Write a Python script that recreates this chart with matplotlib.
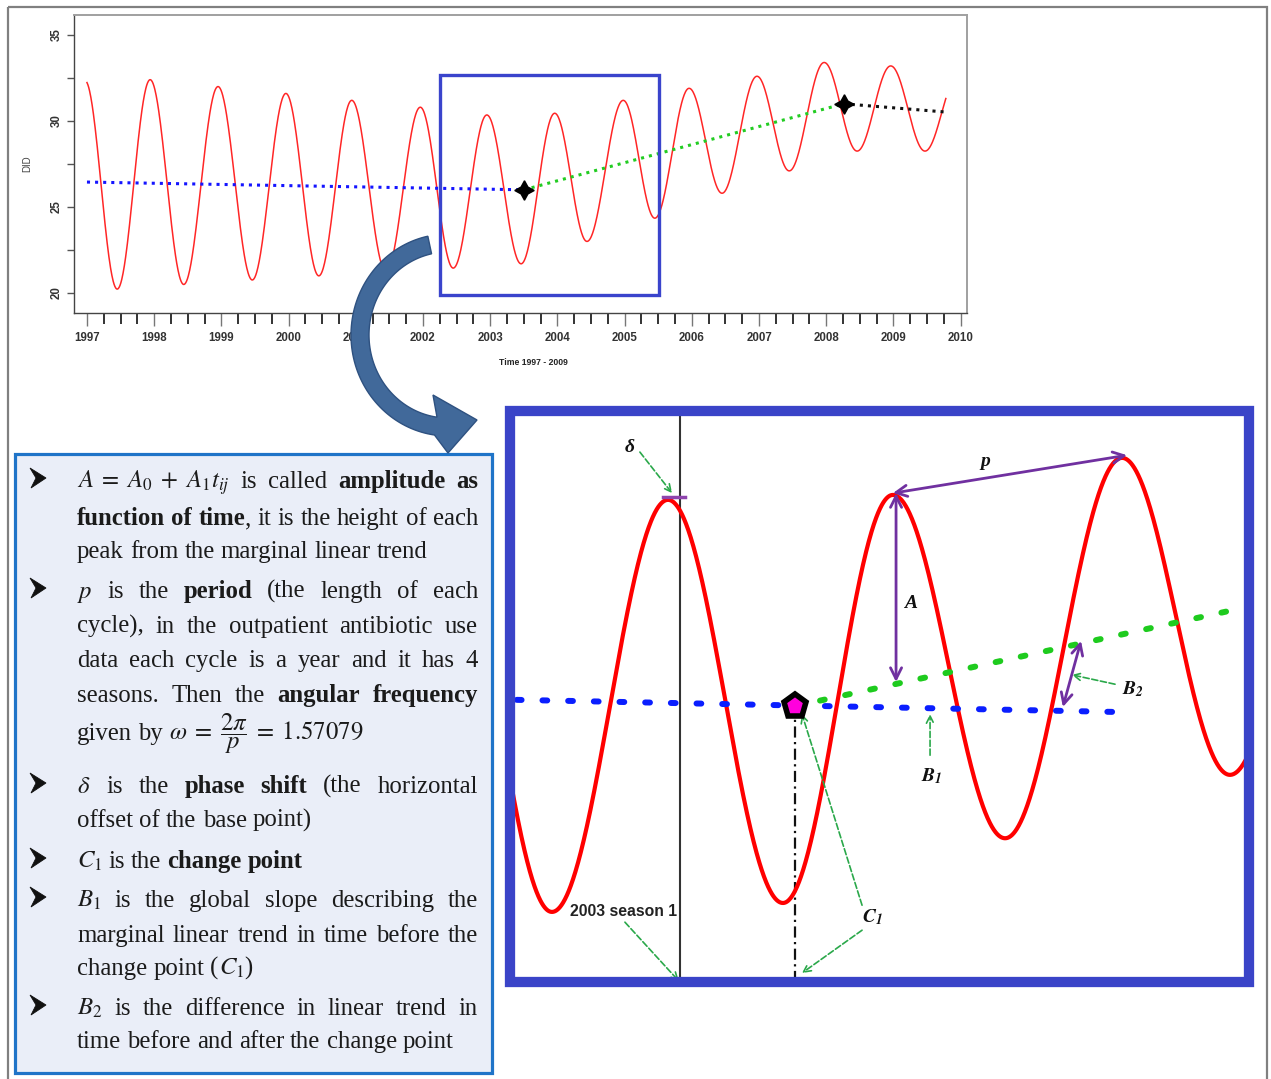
import re
import numpy as np
import matplotlib
matplotlib.use('Agg')
import matplotlib.pyplot as plt
from matplotlib.patches import Rectangle, Polygon

plt.rcParams['mathtext.fontset'] = 'stix'

W, H = 1271, 1079

# top chart: DID 1997-2009, seasonal curve given by its turning points
top_turn_t = [1996.97, 1997.45, 1997.94, 1998.44, 1998.95, 1999.46, 1999.96,
              2000.45, 2000.94, 2001.45, 2001.96, 2002.45, 2002.95, 2003.46,
              2003.96, 2004.44, 2004.98, 2005.45, 2005.96, 2006.45, 2006.97,
              2007.45, 2007.97, 2008.46, 2008.96, 2009.47, 2009.96]
top_turn_v = [32.35, 20.23, 32.4, 20.5, 32.0, 20.76, 31.6,
              21.0, 31.2, 21.25, 30.8, 21.45, 30.35, 21.7,
              30.45, 23.0, 31.2, 24.35, 31.9, 25.8, 32.6,
              27.1, 33.4, 28.25, 33.2, 28.25, 32.6]
top_span = (1997.0, 2009.78)

trend1_t = [1997.0, 2003.5]
trend1_v = [26.45, 26.0]
trend2_t = [2003.5, 2008.26]
trend2_v = [26.0, 31.0]
trend3_t = [2008.26, 2009.78]
trend3_v = [31.0, 30.52]
change_t = [2003.5, 2008.26]
change_v = [26.0, 31.0]

years = list(range(1997, 2011))
did_ticks = [20, 25, 30, 35]

# window 2002.25-2005.51 that the lower panel blows up
win_t = (2002.25, 2005.51)
win_v = (19.88, 32.67)

# lower panel: schematic of the same window
zoom_turn_t = [2001.95, 2002.435, 2002.947, 2003.454, 2003.939, 2004.434,
               2004.950, 2005.426, 2005.93]
zoom_turn_v = [30.9, 21.45, 30.68, 21.65, 30.79, 23.10, 31.62, 24.52, 31.8]
zoom_before_t = [2002.28, 2004.91]
zoom_before_v = [26.20, 25.93]
zoom_after_t = [2003.507, 2005.457]
zoom_after_v = [26.06, 28.23]
season1_t = 2003.0
cp_t, cp_v = 2003.507, 26.06

# purple measurement arrows (p, A, B2) and the delta bar
purple_arrows = [((2003.939, 30.83), (2004.972, 31.68)),
                 ((2003.953, 30.83), (2003.953, 26.60)),
                 ((2004.689, 26.04), (2004.769, 27.52))]
delta_bar_t = [2002.925, 2003.022]
delta_bar_v = [30.74, 30.74]

# green dashed pointers: (from, to)
pointers = [((2002.823, 31.75), (2002.965, 30.83)),
            ((2004.103, 24.96), (2004.103, 25.88)),
            ((2004.919, 26.55), (2004.729, 26.76)),
            ((2003.803, 21.60), (2003.538, 25.88)),
            ((2003.803, 21.04), (2003.538, 20.08)),
            ((2002.757, 21.22), (2002.995, 19.90))]

notes = [
    [r"$A \;=\; A_0 \;+\; A_1 t_{ij}$ is called *amplitude* *as*",
     "*function* *of* *time*, it is the height of each",
     "peak from the marginal linear trend"],
    ["$p$ is the *period* (the length of each",
     "cycle), in the outpatient antibiotic use",
     "data each cycle is a year and it has 4",
     "seasons. Then the *angular* *frequency*",
     r"given by $\omega \;=\; \dfrac{2\pi}{p} \;=\; 1.57079$"],
    [r"$\delta$ is the *phase* *shift* (the horizontal",
     "offset of the base point)"],
    ["$C_1$ is the *change* *point*"],
    ["$B_1$ is the global slope describing the",
     "marginal linear trend in time before the",
     "change point ($C_1$)"],
    ["$B_2$ is the difference in linear trend in",
     "time before and after the change point"],
]
note_baselines = [[488, 525, 558], [598, 633, 667, 702, 740], [793, 827],
                  [868], [907, 942, 975], [1015, 1048]]


def seasonal_curve(turn_t, turn_v, t0, t1, n=2000):
    # half-cosine arcs between consecutive turning points
    t = np.linspace(t0, t1, n)
    y = np.full_like(t, np.nan)
    for i in range(len(turn_t) - 1):
        a, b = turn_t[i], turn_t[i + 1]
        m = (t >= a) & (t <= b)
        f = (t[m] - a) / (b - a)
        y[m] = turn_v[i + 1] + (turn_v[i] - turn_v[i + 1]) * (1 + np.cos(np.pi * f)) / 2
    return t, y


fig = plt.figure(figsize=(W / 100, H / 100), dpi=100)

# ---------------- top chart ----------------
ax = fig.add_axes([74 / W, 1 - 313 / H, 893 / W, 298 / H])
t, y = seasonal_curve(top_turn_t, top_turn_v, *top_span)
ax.plot(t, y, color='#ff2626', lw=1.1, zorder=3)
ax.plot(trend1_t, trend1_v, color='#1414ff', lw=2.2, ls=':', zorder=3)
ax.plot(trend2_t, trend2_v, color='#22cc22', lw=2.2, ls=':', zorder=3)
ax.plot(trend3_t, trend3_v, color='#111111', lw=2.2, ls=':', zorder=3)
ax.plot(change_t, change_v, ls='none', marker=(4, 1, 0), ms=14, color='black', zorder=4)
ax.add_patch(Rectangle((win_t[0], win_v[0]), win_t[1] - win_t[0], win_v[1] - win_v[0],
                       fill=False, ec='#3a44cc', lw=2.4, zorder=5))
ax.set_xlim(1996.807, 2010.095)
ax.set_ylim(18.84, 36.16)
ax.set_xticks(years)
ax.set_xticks(np.arange(1997, 2010.01, 0.25), minor=True)
ax.set_yticks(did_ticks)
ax.set_yticks(np.arange(20, 35.1, 2.5), minor=True)
ax.tick_params(axis='x', which='major', length=9, width=1.0, color='#777777', pad=4.5)
ax.tick_params(axis='x', which='minor', length=8, width=1.4, color='#333333')
ax.tick_params(axis='y', which='both', length=5, width=1.0, color='#555555', pad=3)
for lab in ax.get_xticklabels() + ax.get_yticklabels():
    lab.set_family('Liberation Sans')
    lab.set_weight('bold')
    lab.set_fontsize(8.3)
    lab.set_color('#333333')
for lab in ax.get_yticklabels():
    lab.set_rotation(90)
    lab.set_va('center')
for s in ('top', 'right'):
    ax.spines[s].set_color('#a0a0a0')
    ax.spines[s].set_linewidth(1.4)
for s in ('left', 'bottom'):
    ax.spines[s].set_color('#444444')
    ax.spines[s].set_linewidth(1.0)
ax.set_ylabel('DID', family='Liberation Sans', fontsize=7, color='#444444')
ax.yaxis.set_label_coords(-0.047, 0.5)
ax.set_xlabel('Time 1997 - 2009', family='Liberation Sans', fontsize=6.2,
              weight='bold', color='#222222')
ax.xaxis.set_label_coords(0.514, -0.15)

# ---------------- lower panel ----------------
pax = fig.add_axes([510 / W, 1 - 982 / H, 739 / W, 571 / H])
pax.set_xlim(*win_t)
pax.set_ylim(*win_v)
pax.set_xticks([])
pax.set_yticks([])
for s in pax.spines.values():
    s.set_visible(False)

pt, py = seasonal_curve(zoom_turn_t, zoom_turn_v, 2002.2, 2005.6)
pax.plot(pt, py, color='#ff0000', lw=3.0, zorder=3)
pax.plot(zoom_before_t, zoom_before_v, color='#0a1eff', lw=4.3,
         ls=(0, (0.8, 3.5)), dash_capstyle='round', zorder=4)
pax.plot(zoom_after_t, zoom_after_v, color='#1ecb1e', lw=4.3,
         ls=(0, (0.8, 3.5)), dash_capstyle='round', zorder=4)
pax.axvline(season1_t, color='#333333', lw=1.5, zorder=2)
pax.plot([cp_t, cp_t], [win_v[0], cp_v], color='#111111', lw=1.6,
         ls=(0, (5, 2, 1, 2)), zorder=2)
pax.plot([cp_t], [cp_v], marker='p', ms=17, mfc='#ff00dd', mec='black', mew=4, zorder=6)
pax.plot(delta_bar_t, delta_bar_v, color='#8e44ad', lw=2.5, zorder=5)

for a, b in purple_arrows:
    pax.annotate('', xy=b, xytext=a,
                 arrowprops=dict(arrowstyle='<->', color='#7030a0', lw=2.0,
                                 mutation_scale=20, shrinkA=0, shrinkB=0), zorder=5)
for a, b in pointers:
    pax.annotate('', xy=b, xytext=a,
                 arrowprops=dict(arrowstyle='->', color='#2aa84a', lw=1.2, ls='--',
                                 mutation_scale=13, shrinkA=0, shrinkB=0), zorder=5)

sym = dict(fontsize=14, color='#111111', ha='center', va='center', zorder=6)
pax.text(2004.345, 31.55, 'p', family='Liberation Serif', style='italic', weight='bold', **sym)
pax.text(2004.019, 28.35, 'A', family='Liberation Serif', style='italic', weight='bold', **sym)
pax.text(2002.779, 31.86, 'δ', family='Liberation Serif', style='italic', weight='bold', **sym)
pax.text(2004.111, 24.49, r'$\mathbfit{B_1}$', **sym)
pax.text(2004.998, 26.44, r'$\mathbfit{B_2}$', **sym)
pax.text(2003.851, 21.34, r'$\mathbfit{C_1}$', **sym)
pax.text(2002.753, 21.45, '2003 season 1', family='Liberation Sans', weight='bold',
         fontsize=11.3, color='#222222', ha='center', va='center', zorder=6)

# ---------------- overlay in pixel units ----------------
ov = fig.add_axes([0, 0, 1, 1], zorder=5)
ov.set_xlim(0, W)
ov.set_ylim(H, 0)
ov.axis('off')

ov.add_patch(Rectangle((8, 7), 1259, 1090, fill=False, ec='#808080', lw=1.6, clip_on=False))
ov.add_patch(Rectangle((510, 411), 739, 571, fill=False, ec='#3a44c8', lw=7.4,
                       joinstyle='miter'))
ov.add_patch(Rectangle((15, 454), 477, 619, fc='#eaeef8', ec='#1f74c8', lw=2.3))

# curved arrow from the window down to the lower panel
cx, cy, rx, ry, hw = 448, 335, 88, 92, 9
th = np.radians(np.linspace(102, 262, 80))
inner = np.column_stack([cx + (rx - hw) * np.cos(th), cy - (ry - hw) * np.sin(th)])
outer = np.column_stack([cx + (rx + hw) * np.cos(th), cy - (ry + hw) * np.sin(th)])
head = np.array([[433, 395], [477, 420], [448, 453]])
arrow_pts = np.vstack([inner, head, outer[::-1]])
ov.add_patch(Polygon(arrow_pts, closed=True, fc='#41699a', ec='#2e5180', lw=1.0))

# bullet list, justified like the source text
FS = 17.8
L, R = 77, 478
SPACE = 0.25 * FS * 100 / 72
renderer = fig.canvas.get_renderer()
bullet_shape = np.array([[30, -20], [46, -10], [31, 0], [36, -10]])


def pieces(token):
    out = []
    for part in re.split(r'(\$[^$]*\$|\*[^*]*\*)', token):
        if not part:
            continue
        if part.startswith('*'):
            out.append((part[1:-1], 'bold'))
        else:
            out.append((part, 'normal'))
    return out


for bullet, ys in zip(notes, note_baselines):
    ov.add_patch(Polygon(bullet_shape + [0, ys[0]], closed=True, fc='#111111',
                         ec='#111111', lw=0.6))
    for k, (line, yb) in enumerate(zip(bullet, ys)):
        words = re.findall(r'\S*\$[^$]*\$\S*|\S+', line)
        groups = []
        for wtok in words:
            arts = [ov.text(0, yb, s, fontsize=FS, family='Liberation Serif', weight=w,
                            va='baseline', ha='left', color='#1b1b1b')
                    for s, w in pieces(wtok)]
            widths = [a.get_window_extent(renderer).width for a in arts]
            groups.append((arts, widths))
        total = sum(sum(w) for _, w in groups)
        last = k == len(bullet) - 1
        gap = SPACE if last or len(groups) < 2 else (R - L - total) / (len(groups) - 1)
        x = L
        for arts, widths in groups:
            for a, w in zip(arts, widths):
                a.set_x(x)
                x += w
            x += gap

fig.savefig('out.png', dpi=100)
